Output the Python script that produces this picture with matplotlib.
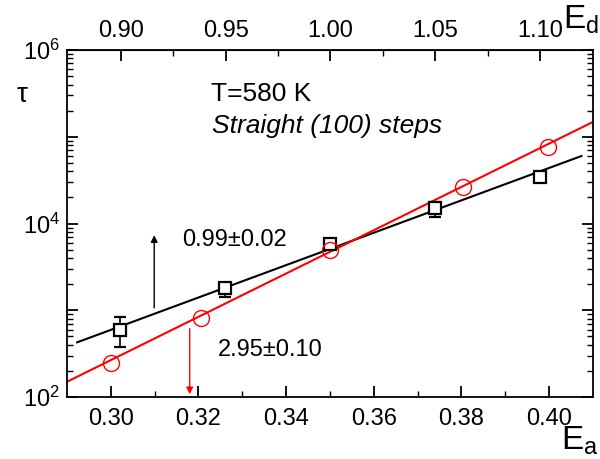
import numpy as np
import matplotlib
matplotlib.use("Agg")
import matplotlib.pyplot as plt
from matplotlib.ticker import FixedLocator, FuncFormatter, NullFormatter

plt.rcParams["font.family"] = ["Liberation Sans", "DejaVu Sans"]
plt.rcParams["mathtext.fontset"] = "custom"
plt.rcParams["mathtext.rm"] = "Liberation Sans"
plt.rcParams["mathtext.it"] = "Liberation Sans:italic"

# black squares (Ed branch)
sq_ea = [0.302, 0.326, 0.350, 0.374, 0.398]
sq_tau = [590, 1790, 5800, 15000, 34700]
sq_err_lo = [213, 370, 300, 3000, 0]
sq_err_hi = [245, 270, 300, 2800, 0]

# red circles (Ea branch)
ci_ea = [0.300, 0.3205, 0.350, 0.3803, 0.3998]
ci_tau = [244, 807, 4950, 26500, 76000]

# fitted lines (end points)
blk_fit_ea = [0.2923, 0.4074]
blk_fit_tau = [427, 60000]
red_fit_ea = [0.290, 0.410]
red_fit_tau = [150, 148000]

# top axis Ed <-> Ea mapping
ed_ref = [0.90, 1.10]
ea_ref = [0.30228, 0.39795]


def ea2ed(x):
    return ed_ref[0] + (np.asarray(x) - ea_ref[0]) * (ed_ref[1] - ed_ref[0]) / (ea_ref[1] - ea_ref[0])


def ed2ea(x):
    return ea_ref[0] + (np.asarray(x) - ed_ref[0]) * (ea_ref[1] - ea_ref[0]) / (ed_ref[1] - ed_ref[0])


fig = plt.figure(figsize=(6.0, 4.59), dpi=100)
ax = fig.add_axes([0.1117, 0.135, 0.8763, 0.756])

ax.plot(blk_fit_ea, blk_fit_tau, color="black", lw=1.5)
ax.plot(red_fit_ea, red_fit_tau, color="red", lw=1.5)
ax.errorbar(sq_ea, sq_tau, yerr=[sq_err_lo, sq_err_hi], fmt="s", ms=9, mfc="white",
            mec="black", mew=1.6, ecolor="black", elinewidth=1.2, capsize=4, capthick=1.2, zorder=4)
ax.plot(ci_ea, ci_tau, "o", ms=11.5, mfc="none", mec="red", mew=1.0, zorder=5)

# arrows
ax.annotate("", xy=(0.3099, 7900), xytext=(0.3099, 990),
            arrowprops=dict(arrowstyle="-|>", color="black", lw=1.0, mutation_scale=10))
ax.annotate("", xy=(0.3180, 100), xytext=(0.3180, 660),
            arrowprops=dict(arrowstyle="-|>", color="red", lw=1.0, mutation_scale=10))

ax.set_yscale("log")
ax.set_xlim(0.29, 0.41)
ax.set_ylim(1e2, 1e6)

ax.xaxis.set_major_locator(FixedLocator([0.30, 0.32, 0.34, 0.36, 0.38, 0.40]))
ax.xaxis.set_minor_locator(FixedLocator([0.31, 0.33, 0.35, 0.37, 0.39]))
ax.xaxis.set_major_formatter(FuncFormatter(lambda v, p: f"{v:.2f}"))

ax.yaxis.set_major_locator(FixedLocator([1e2, 1e3, 1e4, 1e5, 1e6]))
minor = [m * 10 ** d for d in range(2, 6) for m in range(2, 10)]
ax.yaxis.set_minor_locator(FixedLocator(minor))
ax.yaxis.set_minor_formatter(NullFormatter())
ax.yaxis.set_major_formatter(FuncFormatter(
    lambda v, p: r"$10^{%d}$" % round(np.log10(v)) if round(np.log10(v)) % 2 == 0 else ""))

ax.tick_params(axis="both", which="major", direction="in", length=8, width=1.3, labelsize=17)
ax.tick_params(axis="both", which="minor", direction="in", length=4, width=1.0)
ax.tick_params(axis="y", which="both", right=True, pad=5)
ax.tick_params(axis="x", which="major", pad=8)
for s in ax.spines.values():
    s.set_linewidth(1.3)

sec = ax.secondary_xaxis("top", functions=(ea2ed, ed2ea))
sec.xaxis.set_major_locator(FixedLocator([0.90, 0.95, 1.00, 1.05, 1.10]))
sec.xaxis.set_minor_locator(FixedLocator([0.925, 0.975, 1.025, 1.075]))
sec.xaxis.set_major_formatter(FuncFormatter(lambda v, p: f"{v:.2f}"))
sec.tick_params(which="major", direction="in", length=8, width=1.3, labelsize=17, pad=6)
sec.tick_params(which="minor", direction="in", length=4, width=1.0)

# texts
ax.text(0.3228, 3.1e5, "T=580 K", fontsize=19, va="center")
ax.text(0.3232, 1.33e5, "Straight (100) steps", fontsize=19, style="italic", va="center")
ax.text(0.3162, 6450, "0.99\u00b10.02", fontsize=17, va="center")
ax.text(0.3244, 347, "2.95\u00b10.10", fontsize=17, va="center")

fig.text(22 / 600, 1 - 95 / 459, "\u03c4", fontsize=20, ha="center", va="center")
fig.text(599 / 600, 1 - 441 / 459, r"$\mathrm{E_a}$", fontsize=24, ha="right", va="center")
fig.text(599 / 600, 1 - 20 / 459, r"$\mathrm{E_d}$", fontsize=24, ha="right", va="center")

fig.savefig("out.png", dpi=100)
